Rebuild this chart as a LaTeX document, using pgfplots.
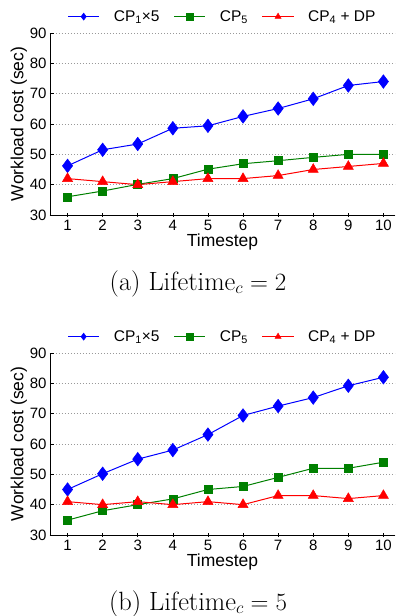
\documentclass[border=0pt]{standalone}
\usepackage{fontspec}
\usepackage{pgfplots}
\pgfplotsset{compat=1.18}
\newfontfamily\arial{Liberation Sans}
\definecolor{mblue}{rgb}{0,0,1}
\definecolor{mgreen}{rgb}{0,0.5,0}
\definecolor{mred}{rgb}{1,0,0}
\pgfplotsset{
  myaxis/.style={
    scale only axis,
    width=345pt, height=182pt,
    xmin=0.5, xmax=10.33,
    ymin=30, ymax=90,
    xtick={1,...,10},
    ytick={30,40,...,90},
    axis x line*=bottom,
    axis y line*=left,
    axis line style={-, black, line width=0.7pt},
    x tick style={black, line width=0.6pt},
    y tick style={black, line width=0.6pt},
    xtick align=center,
    ytick align=inside,
    major tick length=4pt,
    ymajorgrids,
    major grid style={dash pattern=on 0.8pt off 2.2pt, gray!80, line width=0.7pt},
    /pgf/number format/assume math mode=true,
    tick label style={font=\arial\fontsize{15}{17}\selectfont},
    xticklabel style={inner sep=1pt, yshift=-2pt},
    label style={font=\arial\fontsize{17.5}{19}\selectfont},
    xlabel={Timestep},
    ylabel={Workload cost (sec)},
    xlabel style={at={(axis description cs:0.5,-0.148)}, anchor=center, inner sep=0pt},
    ylabel style={at={(axis description cs:-0.09,0.5)}, anchor=center},
    legend style={at={(0.5,1)}, anchor=south, yshift=6pt, draw=none, fill=none,
      font=\arial\fontsize{15.5}{17}\selectfont, column sep=12pt,
      /tikz/every even column/.append style={column sep=12pt}},
    legend columns=3,
    legend image post style={mark size=3.5pt},
    legend image code/.code={
      \draw[mark repeat=2,mark phase=2] plot coordinates {(0cm,0cm) (0.55cm,0cm) (1.1cm,0cm)};},
  },
  s1/.style={mblue, line width=1pt, mark=diamond*, mark size=6.8pt, mark options={solid, fill=mblue, line width=0.5pt}},
  s2/.style={mgreen, line width=1pt, mark=square*, mark size=4pt, mark options={solid, fill=mgreen, line width=0.5pt}},
  s3/.style={mred, line width=1pt, mark=triangle*, mark size=5.8pt, mark options={solid, fill=mred, line width=0.5pt}},
}
\begin{document}
\begin{tikzpicture}
\path[use as bounding box] (-50pt,-401pt) rectangle (346pt,215pt);
\begin{axis}[myaxis, at={(0,0)}, anchor=south west]
\addplot[s1] coordinates {(1,46.2) (2,51.5) (3,53.4) (4,58.6) (5,59.4) (6,62.5) (7,65.1) (8,68.3) (9,72.7) (10,74.0)};
\addplot[s2] coordinates {(1,36.0) (2,37.9) (3,40.1) (4,42.0) (5,45.1) (6,46.9) (7,47.9) (8,49.0) (9,50.0) (10,50.0)};
\addplot[s3] coordinates {(1,42) (2,41) (3,40) (4,41) (5,42) (6,42) (7,43) (8,45) (9,46) (10,47)};
\legend{CP\textsubscript{1}×5, CP\textsubscript{5}, CP\textsubscript{4} + DP}
\end{axis}
\node[font=\fontsize{26.4}{30}\selectfont, anchor=base, inner sep=0pt] at (148pt,-75pt) {(a) Lifetime$_c = 2$};
\begin{axis}[myaxis, at={(0,-320pt)}, anchor=south west]
\addplot[s1] coordinates {(1,45.0) (2,50.2) (3,55.0) (4,58.0) (5,63.1) (6,69.4) (7,72.5) (8,75.3) (9,79.2) (10,82.0)};
\addplot[s2] coordinates {(1,34.9) (2,38.0) (3,40.0) (4,41.9) (5,45.0) (6,46.0) (7,49.0) (8,52.0) (9,52.0) (10,54.0)};
\addplot[s3] coordinates {(1,41) (2,40) (3,41) (4,40) (5,41) (6,40) (7,43) (8,43) (9,42) (10,43)};
\legend{CP\textsubscript{1}×5, CP\textsubscript{5}, CP\textsubscript{4} + DP}
\end{axis}
\node[font=\fontsize{26.4}{30}\selectfont, anchor=base, inner sep=0pt] at (148pt,-395pt) {(b) Lifetime$_c = 5$};
\end{tikzpicture}
\end{document}
